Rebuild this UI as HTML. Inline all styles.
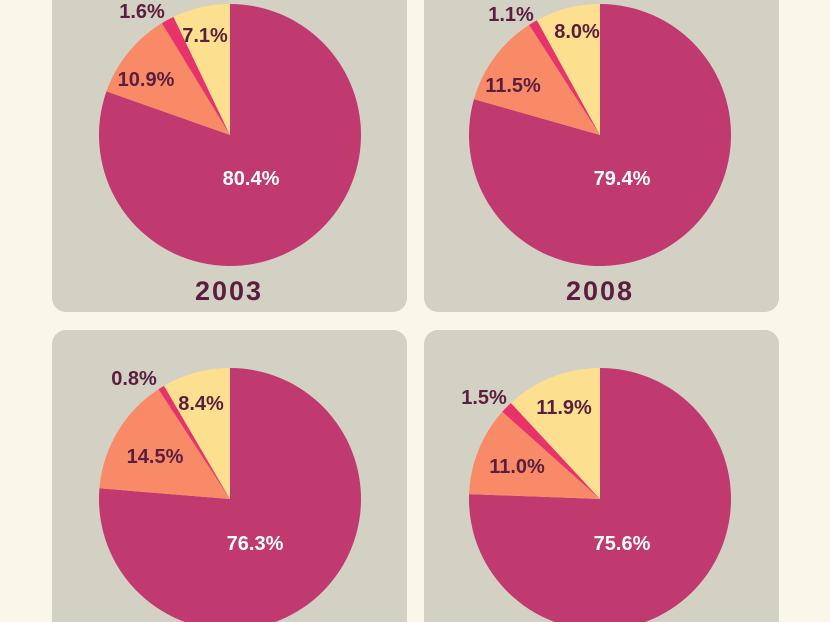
<!DOCTYPE html>
<html><head><style>
html,body{margin:0;padding:0;background:#faf7ea;width:830px;height:622px;overflow:hidden}
svg{display:block}
text{font-family:"Liberation Sans",sans-serif;font-weight:bold;fill:#5a1f3e;text-anchor:middle;dominant-baseline:central}
</style></head><body>
<svg id="s" width="830" height="622" viewBox="0 0 830 622">
<rect x="52" y="-20" width="355" height="332" rx="14" fill="#d3d0c4"/>
<rect x="424" y="-20" width="355" height="332" rx="14" fill="#d3d0c4"/>
<rect x="52" y="330" width="355" height="320" rx="14" fill="#d3d0c4"/>
<rect x="424" y="330" width="355" height="320" rx="14" fill="#d3d0c4"/>
<g id="pies"></g>
<g font-size="20">
<text x="251" y="179" style="fill:#fff">80.4%</text>
<text x="146" y="80">10.9%</text>
<text x="142" y="12">1.6%</text>
<text x="205" y="36">7.1%</text>
<text x="622" y="179" style="fill:#fff">79.4%</text>
<text x="513" y="86">11.5%</text>
<text x="511" y="15">1.1%</text>
<text x="577" y="32">8.0%</text>
<text x="255" y="544" style="fill:#fff">76.3%</text>
<text x="155" y="457">14.5%</text>
<text x="134" y="379">0.8%</text>
<text x="201" y="404">8.4%</text>
<text x="622" y="544" style="fill:#fff">75.6%</text>
<text x="517" y="467">11.0%</text>
<text x="484" y="398">1.5%</text>
<text x="564" y="408">11.9%</text>
</g>
<text x="229" y="291" font-size="27" style="font-weight:900;letter-spacing:2px">2003</text>
<text x="600" y="291" font-size="27" style="font-weight:900;letter-spacing:2px">2008</text>
</svg>
<script>
var cols=["#c0396f","#f98a68","#e8336a","#fde08f"];
var pies=[[230,135,[80.4,10.9,1.6,7.1]],[600,135,[79.4,11.5,1.1,8.0]],[230,499,[76.3,14.5,0.8,8.4]],[600,499,[75.6,11.0,1.5,11.9]]];
var g=document.getElementById("pies"),h="",r=131;
pies.forEach(function(p){var cx=p[0],cy=p[1],v=p[2],t=v.reduce(function(a,b){return a+b}),a=0;
v.forEach(function(x,i){var a0=a/t*2*Math.PI,a1=(a+x)/t*2*Math.PI;a+=x;
var x0=cx+r*Math.sin(a0),y0=cy-r*Math.cos(a0),x1=cx+r*Math.sin(a1),y1=cy-r*Math.cos(a1);
h+='<path d="M'+cx+' '+cy+'L'+x0+' '+y0+'A'+r+' '+r+' 0 '+((a1-a0)>Math.PI?1:0)+' 1 '+x1+' '+y1+'Z" fill="'+cols[i]+'"/>';});});
g.innerHTML=h;
</script>
</body></html>
